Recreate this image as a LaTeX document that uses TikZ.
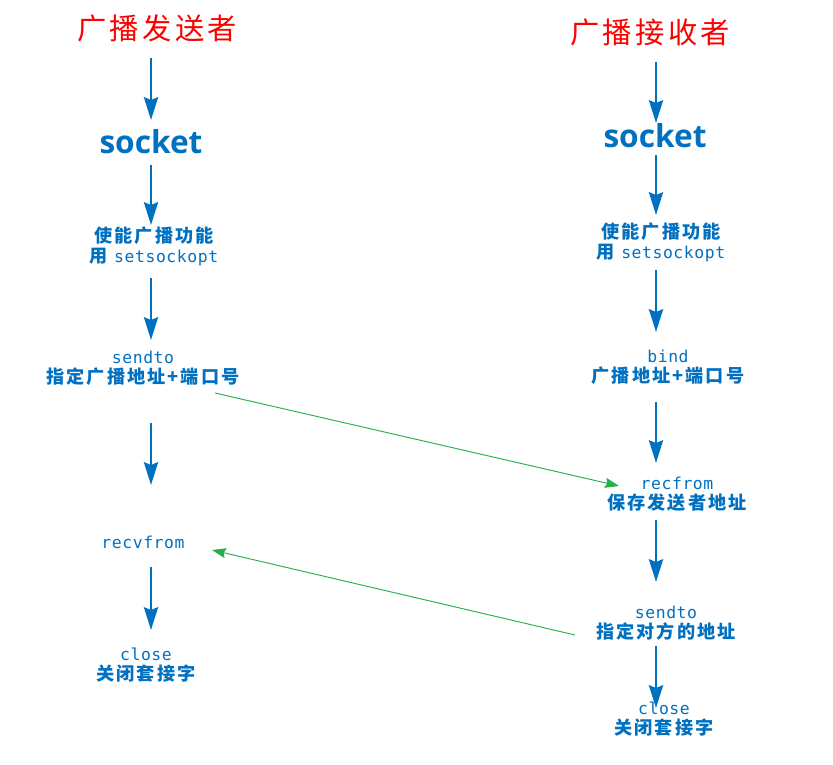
\documentclass[tikz,border=0pt]{standalone}
\usepackage{fontspec}
\usepackage{xcolor}
\definecolor{Col1}{RGB}{0,112,192}
\definecolor{Col2}{RGB}{255,0,0}
\definecolor{Col3}{RGB}{34,177,76}
\newfontfamily\hanfont{Noto Sans CJK SC}[LetterSpace=11.5]
\newfontfamily\codefont{DejaVu Sans Mono}[LetterSpace=3.5]
\newfontfamily\sockfont{Open Sans}
\usepackage{tikz}
\usetikzlibrary{arrows.meta}
\newcommand{\Code}[1]{{\codefont\mdseries\fontsize{14}{17}\selectfont #1}}
\tikzstyle{Title}=[text=Col2,font=\hanfont\fontsize{25}{30}\selectfont]
\tikzstyle{Api}=[text=Col1,font=\sockfont\bfseries\fontsize{27}{30}\selectfont]
\tikzstyle{Step}=[text=Col1,align=center,inner sep=0pt,
font=\hanfont\bfseries\fontsize{15.5}{17}\selectfont]
\tikzstyle{Flow}=[draw=Col1,line width=2.5pt,
-{Stealth[length=0.68cm,width=0.42cm,inset=0.08cm]}]
\tikzstyle{Msg}=[draw=Col3,line width=0.8pt,
-{Stealth[length=0.42cm,width=0.3cm,inset=0.06cm]}]

\begin{document}
\begin{tikzpicture}[x=0.03cm,y=-0.03cm]
        \useasboundingbox (0,0) rectangle (833,765);
        \coordinate(L)at(151,0);
        \coordinate(R)at(656,0);
        % sender
        \node[Title](t0)at(157,28){广播发送者};
        \node[Api](s0)at(151,142){socket};
        \node[Step](s1)at(154,246){使能广播功能\\用 \Code{setsockopt}};
        \node[Step](s2)at(143,368){\Code{sendto}\\指定广播地址+端口号};
        \node[Step](s3)at(143,542){\Code{recvfrom}};
        \node[Step](s4)at(146,665){\Code{close}\\关闭套接字};
        % receiver
        \node[Title](t1)at(650,33){广播接收者};
        \node[Api](r0)at(655,136){socket};
        \node[Step](r1)at(661,242){使能广播功能\\用 \Code{setsockopt}};
        \node[Step](r2)at(668,367){\Code{bind}\\广播地址+端口号};
        \node[Step](r3)at(677,494){\Code{recfrom}\\保存发送者地址};
        \node[Step](r4)at(666,623){\Code{sendto}\\指定对方的地址};
        \node[Step](r5)at(664,719){\Code{close}\\关闭套接字};
        % flow
        \draw[Flow,shorten <=0.9cm,shorten >=0.66cm](t0 -| L)--(s0 -| L);
        \draw[Flow,shorten <=0.69cm,shorten >=0.63cm](s0 -| L)--(s1 -| L);
        \draw[Flow,shorten <=0.96cm,shorten >=0.84cm](s1 -| L)--(s2 -| L);
        \draw[Flow,shorten <=1.65cm,shorten >=1.71cm](s2 -| L)--(s3 -| L);
        \draw[Flow,shorten <=0.75cm,shorten >=1.05cm](s3 -| L)--(s4 -| L);
        \draw[Flow,shorten <=0.87cm,shorten >=0.39cm](t1 -| R)--(r0 -| R);
        \draw[Flow,shorten <=0.57cm,shorten >=0.81cm](r0 -| R)--(r1 -| R);
        \draw[Flow,shorten <=0.84cm,shorten >=1.05cm](r1 -| R)--(r2 -| R);
        \draw[Flow,shorten <=1.05cm,shorten >=0.93cm](r2 -| R)--(r3 -| R);
        \draw[Flow,shorten <=0.78cm,shorten >=1.23cm](r3 -| R)--(r4 -| R);
        \draw[Flow,shorten <=0.69cm,shorten >=0.33cm](r4 -| R)--(r5 -| R);
        % messages
        \draw[Msg]([shift={(72,25)}]s2.center)--([shift={(-58,-8)}]r3.center);
        \draw[Msg]([shift={(-91,12)}]r4.center)--([shift={(69,8)}]s3.center);
    \end{tikzpicture}
\end{document}
